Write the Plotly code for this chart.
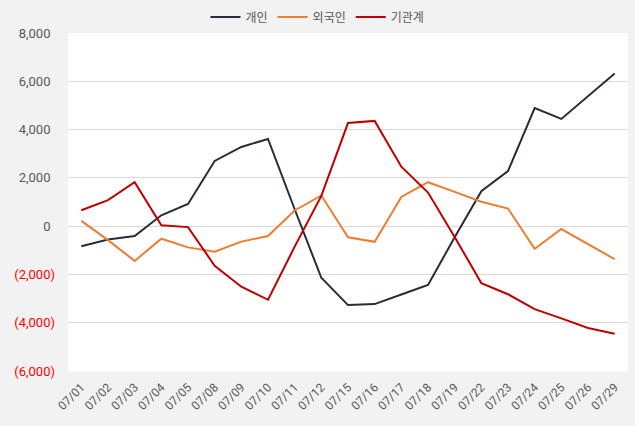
import plotly.graph_objects as go

dates = ["07/01", "07/02", "07/03", "07/04", "07/05", "07/08", "07/09", "07/10", "07/11", "07/12",
         "07/15", "07/16", "07/17", "07/18", "07/19", "07/22", "07/23", "07/24", "07/25", "07/26", "07/29"]
individual = [-830, -550, -410, 450, 920, 2700, 3280, 3610, 700, -2140,
              -3270, -3230, -2830, -2440, -460, 1450, 2280, 4890, 4440, 5390, 6320]
foreign = [220, -580, -1440, -520, -880, -1060, -640, -410, 650, 1270,
           -460, -650, 1210, 1820, 1420, 1010, 730, -940, -120, -740, -1370]
institution = [660, 1080, 1820, 40, -40, -1640, -2510, -3050, -850, 1250,
               4270, 4360, 2460, 1390, -450, -2360, -2820, -3440, -3820, -4220, -4460]

names = ["개인", "외국인", "기관계"]
colors = ["#252d3b", "#ed7d31", "#c00000"]
series = [individual, foreign, institution]

y_ticks = [8000, 6000, 4000, 2000, 0, -2000, -4000, -6000]


def fmt(v):
    if v < 0:
        return "<span style='color:#ff0000'>({:,})</span>".format(-v)
    return "{:,}<span style='color:rgba(0,0,0,0)'>)</span>".format(v)


fig = go.Figure()
for n, c, s in zip(names, colors, series):
    fig.add_trace(go.Scatter(x=dates, y=s, name=n, mode="lines",
                             line=dict(color=c, width=2)))

font_family = "Roboto, 'Noto Sans CJK KR', sans-serif"
fig.update_layout(
    width=635, height=426,
    margin=dict(l=68, r=7, t=33, b=55, autoexpand=False),
    paper_bgcolor="#f2f2f2",
    plot_bgcolor="#ffffff",
    font=dict(family=font_family, size=12, color="#595959"),
    showlegend=True,
    legend=dict(orientation="h", xref="container", x=0.5, xanchor="center",
                yref="container", y=0.96, yanchor="middle",
                font=dict(size=12, color="#595959"), itemwidth=30,
                bgcolor="rgba(0,0,0,0)"),
    xaxis=dict(type="category", range=[-0.5, len(dates) - 0.5], tickangle=-45,
               showgrid=False, showline=False, automargin=False,
               ticks="", ticklabelstandoff=6, tickfont=dict(size=12, color="#595959")),
    yaxis=dict(range=[-6000, 8000], tickvals=y_ticks, ticktext=[fmt(v) for v in y_ticks],
               showgrid=True, gridcolor="#d9d9d9", gridwidth=1, zeroline=False,
               showline=False, ticks="", ticklabelstandoff=12, automargin=False,
               tickfont=dict(size=13, color="#595959")),
)

fig.write_html("out.html")
